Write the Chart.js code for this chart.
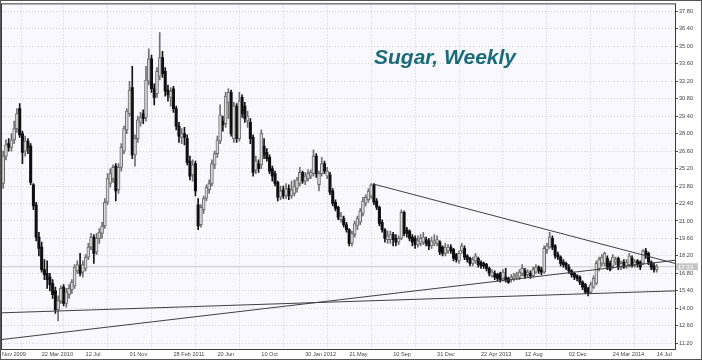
<!DOCTYPE html>
<html>
<head>
<meta charset="utf-8">
<script src="https://cdn.jsdelivr.net/npm/chart.js@4.4.1/dist/chart.umd.min.js"></script>
<style>
html, body { margin: 0; padding: 0; background: #fff; }
#wrap { width: 702px; height: 360px; }
</style>
</head>
<body>
<div id="wrap"><canvas id="sugar-chart"></canvas></div>
<script>
// タイトル
const chartTitle = 'Sugar, Weekly';

// 週足データ (0 = 2009年12月14日の週)
const opens = [
    24.0,26.2,27.2,26.9,27.5,28.4,30.0,28.0,26.6,27.4,
    27.0,23.9,22.3,19.7,18.9,17.1,16.8,16.5,16.0,15.4,
    13.9,14.6,15.7,14.4,15.1,15.5,15.8,17.0,17.4,16.9,
    17.2,18.1,18.9,19.7,18.5,19.6,20.0,20.6,22.5,24.0,
    24.4,25.4,23.5,25.3,26.6,28.3,29.6,31.7,26.3,27.6,
    28.9,29.6,29.3,32.2,34.0,31.6,31.2,32.6,34.1,33.0,
    31.5,30.9,31.6,30.0,28.6,27.7,28.0,27.6,25.8,24.7,
    25.6,22.3,20.7,21.9,22.8,23.5,24.0,25.5,26.4,27.4,
    29.0,28.8,30.5,31.3,27.6,30.2,27.6,30.9,30.2,29.0,
    28.9,27.7,25.1,25.6,25.5,27.0,26.5,26.1,25.2,24.8,
    24.1,22.9,23.5,23.0,23.6,23.0,23.2,23.6,24.0,24.9,
    24.2,24.4,24.6,24.8,26.2,23.9,24.8,25.6,24.6,24.7,
    23.4,22.5,22.1,21.1,21.2,20.7,20.3,19.2,19.9,20.6,
    20.9,21.6,22.4,22.7,23.0,23.9,22.6,22.1,20.9,20.3,
    19.5,19.5,19.9,19.6,19.3,19.6,21.7,20.3,20.2,19.7,
    19.6,19.1,19.2,19.3,19.5,19.4,19.0,19.2,19.2,19.3,
    18.9,18.4,18.6,18.9,18.7,18.3,17.8,18.6,18.8,18.2,
    18.0,17.6,17.8,18.0,17.7,17.6,17.5,17.2,16.6,16.8,
    16.7,16.8,16.4,16.5,16.4,16.3,16.4,16.5,16.5,16.8,
    17.0,16.7,16.8,16.6,16.9,17.3,17.1,16.9,18.7,18.9,
    19.6,19.0,18.3,18.1,17.7,17.6,17.3,17.0,16.8,16.6,
    16.5,16.1,15.9,15.6,15.3,15.7,16.0,17.2,17.6,17.6,
    18.0,17.6,17.4,17.7,18.0,17.3,17.7,17.4,17.5,18.0,
    17.5,17.8,17.7,17.6,18.6,18.4,17.7,17.4,17.1
];
const highs = [
    26.6,27.5,27.6,28.0,29.0,30.0,30.4,28.2,27.8,27.6,
    27.2,24.0,22.5,20.1,19.3,17.9,17.8,16.8,16.3,15.7,
    15.0,15.8,15.9,15.6,15.9,16.3,17.5,17.8,18.4,17.8,
    18.3,19.2,20.0,19.9,20.0,20.4,20.9,22.8,24.8,25.2,
    25.5,25.6,25.6,27.2,28.6,30.0,32.2,33.4,27.9,29.4,
    29.7,29.9,33.4,34.8,34.3,32.0,33.3,36.1,34.6,33.3,
    31.9,31.7,31.8,30.2,28.9,28.4,28.5,27.9,26.2,25.9,
    25.8,22.8,22.3,23.0,23.9,24.3,25.9,26.6,27.8,30.3,
    29.4,31.3,31.6,31.5,30.5,30.4,31.3,31.1,30.5,29.8,
    29.2,27.9,26.2,25.9,28.3,27.6,26.8,26.3,25.4,25.0,
    24.2,23.8,23.8,24.0,23.9,24.2,24.3,24.5,25.3,25.0,
    24.9,25.1,25.1,26.7,26.4,25.0,26.1,25.8,25.3,24.9,
    23.6,22.7,22.2,21.7,21.4,20.9,20.4,20.2,21.0,21.4,
    22.0,22.9,23.1,23.6,24.0,24.0,22.8,22.2,21.1,20.4,
    20.2,20.2,20.1,19.9,19.8,21.9,21.8,20.5,20.3,19.9,
    19.8,19.8,19.9,20.1,19.7,19.6,19.7,19.9,19.8,19.4,
    19.0,19.2,19.1,19.1,18.8,18.4,18.6,19.2,19.0,18.3,
    18.1,18.1,18.4,18.1,17.8,17.7,17.6,17.3,17.1,17.0,
    16.8,16.9,17.1,17.2,16.5,16.7,16.8,16.9,17.1,17.5,
    17.2,17.1,17.0,17.3,17.5,17.4,17.3,19.0,19.2,20.1,
    19.8,19.1,18.5,18.2,17.9,17.7,17.5,17.1,16.9,16.7,
    16.6,16.2,16.0,15.7,16.1,16.6,17.8,18.1,18.3,18.5,
    18.2,17.8,18.3,18.1,18.1,17.8,17.9,17.9,18.4,18.2,
    17.9,17.9,17.8,18.7,18.8,18.5,17.8,17.6,17.5
];
const lows = [
    23.6,25.9,26.6,26.6,27.2,28.1,27.7,25.6,26.2,26.4,
    23.9,21.9,19.4,18.2,16.9,16.3,15.6,15.4,14.8,13.6,
    13.0,14.4,14.2,14.1,14.8,15.2,15.6,16.8,16.6,16.5,
    17.0,17.9,18.7,17.6,18.3,19.2,19.6,20.4,22.3,23.7,
    24.1,22.6,23.2,25.0,26.4,28.0,29.4,26.0,25.4,27.3,
    28.6,28.8,29.0,31.9,31.3,30.3,30.9,32.3,32.5,31.0,
    30.6,30.2,29.7,28.3,27.3,27.2,27.1,25.5,24.3,24.2,
    23.0,20.3,20.5,21.6,22.6,23.2,23.8,25.2,26.1,27.2,
    28.2,28.5,29.2,27.8,27.3,27.3,27.4,29.3,28.9,28.5,
    27.2,24.6,24.8,24.9,25.2,26.0,25.8,24.8,24.2,23.8,
    22.6,22.7,22.8,22.8,22.7,22.8,23.0,23.3,23.8,24.0,
    23.9,24.2,24.4,24.6,24.5,23.4,24.6,24.8,24.4,23.1,
    22.2,21.8,21.1,20.9,20.5,20.1,19.0,19.0,19.7,20.3,
    20.7,21.4,22.2,22.5,22.8,22.3,21.9,20.6,20.1,19.3,
    19.2,19.2,19.0,19.0,19.1,19.5,19.8,19.7,19.4,19.0,
    18.8,18.9,19.0,19.1,19.0,18.7,18.8,19.0,19.0,18.3,
    18.2,18.2,18.4,18.4,17.8,17.7,17.6,18.4,17.9,17.7,
    17.4,17.4,17.6,17.3,17.2,17.2,17.0,16.6,16.5,16.3,
    16.2,16.1,16.2,16.1,16.0,16.1,16.2,16.3,16.3,16.6,
    16.4,16.5,16.4,16.5,16.8,16.8,16.7,16.8,18.4,18.8,
    18.7,18.0,17.9,17.4,17.3,17.1,16.8,16.5,16.3,16.2,
    15.9,15.5,15.2,15.0,15.2,15.6,15.9,17.0,17.4,17.4,
    17.1,17.0,17.2,17.5,17.1,17.1,17.2,17.2,17.3,17.3,
    17.3,17.3,17.1,17.5,18.0,17.5,17.1,16.9,16.9
];
const closes = [
    26.2,27.1,26.9,27.5,28.4,29.6,27.9,26.5,27.4,26.9,
    24.1,22.2,19.7,18.8,17.1,16.7,16.3,15.9,15.1,13.9,
    14.6,15.6,14.4,15.3,15.6,16.1,17.3,17.5,16.8,17.5,
    18.1,18.9,19.7,18.4,19.6,20.1,20.6,22.5,24.4,24.8,
    25.3,23.4,25.3,26.9,28.4,29.8,31.5,26.3,27.6,29.1,
    29.3,29.2,32.3,34.0,31.6,30.9,33.0,34.1,32.8,31.4,
    31.1,31.4,30.0,28.6,27.8,28.0,27.7,25.7,24.6,25.5,
    23.4,20.6,22.1,22.8,23.7,24.0,25.6,26.4,27.5,29.5,
    28.7,31.0,31.3,28.0,30.2,27.6,30.6,29.6,29.2,29.4,
    27.6,24.9,25.8,25.2,28.0,26.3,26.0,25.0,24.6,24.0,
    22.9,23.4,23.0,23.6,23.0,23.5,23.8,24.3,24.9,24.2,
    24.6,24.8,24.9,26.2,24.8,24.8,25.6,25.0,25.0,23.3,
    22.4,22.0,21.3,21.4,20.7,20.3,19.2,20.0,20.8,21.2,
    21.8,22.6,22.9,23.4,23.9,22.5,22.1,20.8,20.3,19.6,
    19.8,19.9,19.5,19.3,19.6,21.7,20.0,20.0,19.6,19.3,
    19.1,19.4,19.6,19.7,19.2,19.0,19.4,19.4,19.5,18.5,
    18.4,18.9,18.9,18.6,18.0,17.9,18.4,19.0,18.1,17.9,
    17.6,17.9,18.2,17.5,17.4,17.4,17.2,16.8,16.9,16.5,
    16.4,16.3,16.9,16.3,16.1,16.5,16.6,16.7,16.9,17.2,
    16.6,16.9,16.6,17.1,17.3,17.0,16.9,18.8,19.0,19.7,
    18.9,18.2,18.1,17.6,17.5,17.3,17.0,16.7,16.5,16.4,
    16.1,15.7,15.3,15.2,15.9,16.4,17.6,17.9,18.1,18.4,
    17.3,17.1,18.1,17.9,17.3,17.6,17.3,17.7,18.2,17.4,
    17.7,17.5,17.3,18.6,18.2,17.7,17.3,17.1,17.33
];

// 軸の目盛り
const xTickWeeks = [-0.44, 14, 30, 46, 62, 78, 94, 110, 126, 142, 158, 174, 190, 206, 222, 238];
const xTickLabels = ['Nov 2009', '22 Mar 2010', '12 Jul', '01 Nov', '28 Feb 2011', '20 Jun', '10 Oct',
    '30 Jan 2012', '21 May', '10 Sep', '31 Dec', '22 Apr 2013', '12 Aug', '02 Dec', '24 Mar 2014', '14 Jul'];
const yTicks = [11.2, 12.6, 14.0, 15.4, 16.8, 18.2, 19.6, 21.0, 22.4, 23.8,
    25.2, 26.6, 28.0, 29.4, 30.8, 32.2, 33.6, 35.0, 36.4, 37.8];

// 表示範囲
const xMin = -0.44, xMax = 244.65;
const yMin = 10.74, yMax = 38.36;

// トレンドライン
const resistanceLine = [{x: 135, y: 23.95}, {x: xMax, y: 17.6}];
const supportLine = [{x: xMin, y: 11.5}, {x: xMax, y: 17.85}];
const longSupportLine = [{x: xMin, y: 13.64}, {x: xMax, y: 15.4}];

const lastClose = closes[closes.length - 1];
const isUp = i => closes[i] >= opens[i];

// ローソク足のデータ作成
const wickData = closes.map((_, i) => ({x: i, y: [lows[i], highs[i]]}));
const upBodies = [];
const downBodies = [];
closes.forEach((c, i) => {
    const lo = Math.min(opens[i], c);
    const hi = Math.max(opens[i], c);
    const body = {x: i, y: [lo, Math.max(hi, lo + 0.08)]};
    (isUp(i) ? upBodies : downBodies).push(body);
});

// 背景・枠・タイトル・現在値ラベル
const framePlugin = {
    id: 'frame',
    beforeDraw(chart) {
        const {ctx, chartArea: a, width, height} = chart;
        ctx.save();
        ctx.fillStyle = '#ffffff';
        ctx.fillRect(0, 0, width, height);
        ctx.fillStyle = '#f8f8fe';
        ctx.fillRect(a.left, a.top, a.right - a.left, a.bottom - a.top);
        ctx.restore();
    },
    afterDraw(chart) {
        const {ctx, chartArea: a, width, height} = chart;
        ctx.save();
        ctx.strokeStyle = '#3a3a3a';
        ctx.lineWidth = 1;
        ctx.strokeRect(a.left - 0.5, a.top - 0.5, a.right - a.left + 1, a.bottom - a.top + 1);
        ctx.strokeStyle = '#555';
        ctx.strokeRect(0.5, 0.5, width - 1, height - 1);

        // 現在値
        const y = chart.scales.y.getPixelForValue(lastClose);
        ctx.fillStyle = '#c6c6c6';
        ctx.fillRect(a.right + 1, y - 3.5, 22, 7);
        ctx.fillStyle = '#ffffff';
        ctx.font = '6px "Liberation Sans"';
        ctx.textBaseline = 'middle';
        ctx.fillText(lastClose.toFixed(2), a.right + 3, y + 0.5);

        // タイトル
        ctx.fillStyle = '#1a6b7a';
        ctx.font = 'italic bold 21px "Liberation Sans"';
        ctx.textBaseline = 'alphabetic';
        ctx.fillText(chartTitle, 374, 64);
        ctx.restore();
    }
};

const lineDataset = (data, color, order) => ({
    type: 'line',
    data: data,
    borderColor: color,
    borderWidth: 1,
    pointRadius: 0,
    fill: false,
    order: order
});

new Chart(document.getElementById('sugar-chart'), {
    type: 'bar',
    data: {
        datasets: [
            lineDataset(resistanceLine, '#404040', 0),
            lineDataset(supportLine, '#404040', 0),
            lineDataset(longSupportLine, '#404040', 0),
            {
                data: upBodies,
                grouped: false,
                barThickness: 3,
                backgroundColor: '#dadada',
                borderColor: '#6a6a6a',
                borderWidth: 1,
                borderSkipped: false,
                order: 1
            },
            {
                data: downBodies,
                grouped: false,
                barThickness: 2.4,
                backgroundColor: '#101010',
                borderWidth: 0,
                order: 1
            },
            {
                data: wickData,
                grouped: false,
                barThickness: 1,
                backgroundColor: ctx => isUp(ctx.dataIndex) ? '#707070' : '#151515',
                borderWidth: 0,
                order: 2
            },
            lineDataset([{x: xMin, y: lastClose}, {x: xMax, y: lastClose}], '#c8c8c8', 3)
        ]
    },
    options: {
        responsive: true,
        maintainAspectRatio: false,
        animation: false,
        layout: { padding: { left: 1, top: 3, right: 1, bottom: 1 } },
        plugins: {
            legend: { display: false },
            tooltip: { enabled: false }
        },
        scales: {
            x: {
                type: 'linear',
                offset: false,
                min: xMin,
                max: xMax,
                afterBuildTicks: scale => {
                    scale.ticks = xTickWeeks.map(v => ({value: v}));
                },
                afterFit: scale => { scale.height = 10; },
                ticks: {
                    autoSkip: false,
                    maxRotation: 0,
                    align: 'start',
                    padding: 2,
                    color: '#444',
                    font: { family: 'Liberation Sans', size: 5.6 },
                    callback: (v, i) => xTickLabels[i]
                },
                grid: {
                    color: ctx => ctx.index === 0 ? 'rgba(0,0,0,0)' : '#d2d2d2',
                    drawTicks: false
                },
                border: { display: false, dash: [1, 2] }
            },
            y: {
                position: 'right',
                min: yMin,
                max: yMax,
                afterBuildTicks: scale => {
                    scale.ticks = yTicks.map(v => ({value: v}));
                },
                afterFit: scale => { scale.width = 26; },
                ticks: {
                    padding: 1,
                    color: '#444',
                    font: { family: 'Liberation Sans', size: 5.6 },
                    callback: v => v.toFixed(2)
                },
                grid: {
                    color: '#d2d2d2',
                    tickLength: 3,
                    tickColor: '#555',
                    tickBorderDash: []
                },
                border: { display: false, dash: [1, 2] }
            }
        }
    },
    plugins: [framePlugin]
});
</script>
</body>
</html>
